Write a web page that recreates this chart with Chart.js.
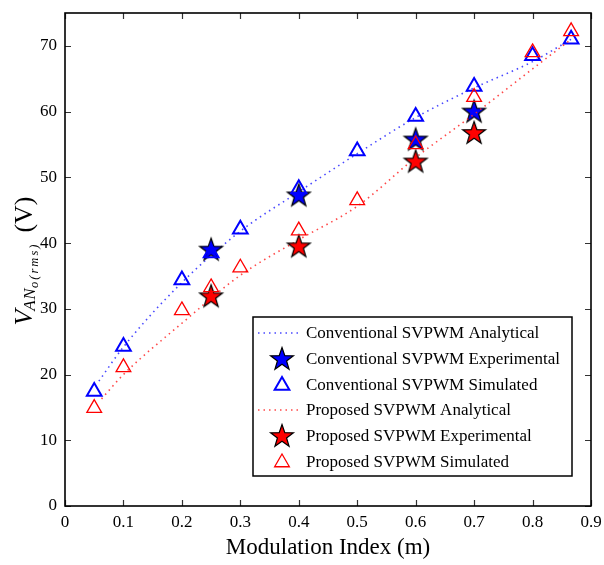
<!DOCTYPE html>
<html><head><meta charset="utf-8">
<script src="https://cdn.jsdelivr.net/npm/chart.js@4/dist/chart.umd.min.js"></script>
<style>html,body{margin:0;padding:0;background:#fff}</style>
</head><body>
<canvas id="c" width="604" height="565"></canvas>
<script>
// ---- data ----
const xTicks = [0,0.1,0.2,0.3,0.4,0.5,0.6,0.7,0.8,0.9];
const yTicks = [0,10,20,30,40,50,60,70];
const convAnalyticalM = [0.058,0.1,0.2,0.3,0.4,0.5,0.6,0.7,0.8,0.866];
const convAnalyticalV = [19,24.2,34,41.8,47.8,53.6,59.1,63.6,67.6,71];
const propAnalyticalM = [0.0625,0.1,0.2,0.3,0.4,0.5,0.6,0.7,0.8,0.866];
const propAnalyticalV = [16.3,20,27.8,35.1,40.5,45.6,53,59.6,66.5,71];
const simM = [0.05,0.1,0.2,0.25,0.3,0.4,0.5,0.6,0.7,0.8,0.866];
const convSimV = [17.4,24.25,34.4,38.5,42.1,48.25,54,59.25,63.8,68.5,71];
const propSimV = [14.9,21.1,29.75,33.25,36.25,41.9,46.5,55,62.2,69,72.2];
const expM = [0.25,0.4,0.6,0.7];
const convExpV = [39,47.25,55.75,60];
const propExpV = [31.9,39.5,52.4,56.75];
const labels = ['Conventional SVPWM Analytical','Conventional SVPWM Experimental','Conventional SVPWM Simulated',
                'Proposed SVPWM Analytical','Proposed SVPWM Experimental','Proposed SVPWM Simulated'];

const pts = (xs, ys) => xs.map((x,i)=>({x, y: ys[i]}));
const BLUE = 'rgb(0,0,255)', RED = 'rgb(255,0,0)';

function makeStar(fill){
  const s = 28, c = document.createElement('canvas'); c.width = s; c.height = s;
  const g = c.getContext('2d'); const R = 12, r = 4.8, cx = s/2, cy = s/2 + 0.5;
  g.beginPath();
  for (let i=0;i<10;i++){ const a = -Math.PI/2 + i*Math.PI/5; const rr = i%2 ? r : R; g.lineTo(cx+rr*Math.cos(a), cy+rr*Math.sin(a)); }
  g.closePath(); g.fillStyle = fill; g.fill(); g.lineWidth = 1.2; g.strokeStyle = '#000'; g.stroke();
  return c;
}
const blueStar = makeStar(BLUE), redStar = makeStar(RED);

const SERIF = '"Liberation Serif", "DejaVu Serif", serif';

const datasets = [
  {label: labels[0], data: pts(convAnalyticalM, convAnalyticalV), showLine: true, borderColor: 'rgba(40,40,255,0.85)', borderWidth: 1.6, borderDash: [1.5,4], pointRadius: 0, cubicInterpolationMode: 'monotone', kind: 'line', order: 6},
  {label: labels[1], data: pts(expM, convExpV), pointStyle: blueStar, pointRadius: 12, kind: 'star', order: 5},
  {label: labels[2], data: pts(simM, convSimV), pointStyle: 'triangle', pointRadius: 8.5, borderColor: BLUE, backgroundColor: 'rgba(0,0,0,0)', pointBorderWidth: 2, borderWidth: 2, kind: 'tri', order: 4},
  {label: labels[3], data: pts(propAnalyticalM, propAnalyticalV), showLine: true, borderColor: 'rgba(255,40,40,0.85)', borderWidth: 1.6, borderDash: [1.5,4], pointRadius: 0, cubicInterpolationMode: 'monotone', kind: 'line', order: 3},
  {label: labels[4], data: pts(expM, propExpV), pointStyle: redStar, pointRadius: 12, kind: 'star', order: 2},
  {label: labels[5], data: pts(simM, propSimV), pointStyle: 'triangle', pointRadius: 8.5, borderColor: RED, backgroundColor: 'rgba(0,0,0,0)', pointBorderWidth: 1.3, borderWidth: 1.3, kind: 'tri', order: 1}
];

function triPath(g, x, y, r){
  g.beginPath();
  g.moveTo(x, y - r);
  g.lineTo(x + r*Math.sin(2*Math.PI/3), y - r*Math.cos(2*Math.PI/3));
  g.lineTo(x + r*Math.sin(4*Math.PI/3), y - r*Math.cos(4*Math.PI/3));
  g.closePath();
}

const framePlugin = {
  id: 'frame',
  afterDraw(chart){
    const g = chart.ctx, a = chart.chartArea, xs = chart.scales.x, ys = chart.scales.y;
    g.save();
    // ticks inward
    g.strokeStyle = '#333'; g.lineWidth = 1.2;
    xTicks.forEach(v => { const px = Math.round(xs.getPixelForValue(v))+0.5;
      g.beginPath(); g.moveTo(px, a.bottom); g.lineTo(px, a.bottom-6); g.moveTo(px, a.top); g.lineTo(px, a.top+6); g.stroke(); });
    yTicks.forEach(v => { const py = Math.round(ys.getPixelForValue(v))+0.5;
      g.beginPath(); g.moveTo(a.left, py); g.lineTo(a.left+6, py); g.moveTo(a.right, py); g.lineTo(a.right-6, py); g.stroke(); });
    // frame
    g.strokeStyle = '#000'; g.lineWidth = 1.6;
    g.strokeRect(a.left, a.top, a.right-a.left, a.bottom-a.top);

    // x title
    g.fillStyle = '#000'; g.textAlign = 'center'; g.textBaseline = 'alphabetic';
    g.font = '23px ' + SERIF;
    g.fillText('Modulation Index (m)', (a.left+a.right)/2, 554);

    // y title with subscripts
    g.translate(32, 261); g.rotate(-Math.PI/2);
    const parts = [
      {t:'V', f:'italic 26px '+SERIF, dy:0, gap:-1, ls:'0px'},
      {t:'AN', f:'italic 17px '+SERIF, dy:3, gap:0, ls:'0.5px'},
      {t:'o(rms)', f:'italic 12.5px '+SERIF, dy:6, gap:10, ls:'2px'},
      {t:'(V)', f:'26px '+SERIF, dy:0, gap:0, ls:'0px'}
    ];
    let total = 0;
    parts.forEach(p => { g.font = p.f; g.letterSpacing = p.ls; p.w = g.measureText(p.t).width; total += p.w + p.gap; });
    let x0 = -total/2;
    g.textAlign = 'left';
    parts.forEach(p => { g.font = p.f; g.letterSpacing = p.ls; g.fillText(p.t, x0, p.dy); x0 += p.w + p.gap; });
    g.letterSpacing = '0px';
    g.restore();

    // legend
    g.save();
    const L = 253, T = 317, R = 572, B = 476;
    g.fillStyle = '#fff'; g.fillRect(L, T, R-L, B-T);
    g.strokeStyle = '#000'; g.lineWidth = 1.5; g.strokeRect(L, T, R-L, B-T);
    const rows = [333, 359, 384.5, 410, 436, 461.5];
    g.font = '17px ' + SERIF; g.textBaseline = 'middle'; g.textAlign = 'left';
    chart.data.datasets.forEach((d, i) => {
      const y = rows[i], cx = 282;
      if (d.kind === 'line'){
        g.save(); g.strokeStyle = d.borderColor; g.lineWidth = d.borderWidth; g.setLineDash(d.borderDash);
        g.beginPath(); g.moveTo(258, y); g.lineTo(300, y); g.stroke(); g.restore();
      } else if (d.kind === 'star'){
        g.drawImage(d.pointStyle, cx - d.pointStyle.width/2, y - d.pointStyle.height/2);
      } else {
        g.save(); g.strokeStyle = d.borderColor; g.lineWidth = d.pointBorderWidth; triPath(g, cx, y+1, d.pointRadius); g.stroke(); g.restore();
      }
      g.fillStyle = '#000';
      g.fillText(d.label, 306, y+1);
    });
    g.restore();
  }
};

const zeroPad = s => { s.paddingTop = 0; s.paddingBottom = 0; s.paddingLeft = 0; s.paddingRight = 0; };

new Chart(document.getElementById('c'), {
  type: 'scatter',
  data: { datasets },
  options: {
    responsive: false, animation: false, devicePixelRatio: 1,
    layout: { padding: { top: 6, right: 11, left: 0, bottom: 0 } },
    plugins: { legend: { display: false }, tooltip: { enabled: false } },
    scales: {
      x: { type: 'linear', min: 0, max: 0.9,
        afterBuildTicks: s => { s.ticks = xTicks.map(v => ({value: v})); },
        afterFit: s => { s.height = 59; zeroPad(s); },
        grid: { display: false, drawTicks: false }, border: { display: false },
        ticks: { padding: 6, color: '#000', font: { family: SERIF, size: 17 }, maxRotation: 0,
          callback: v => (v === 0 ? '0' : String(Math.round(v*10)/10)) } },
      y: { type: 'linear', min: 0, max: 75,
        afterBuildTicks: s => { s.ticks = yTicks.map(v => ({value: v})); },
        afterFit: s => { s.width = 65; zeroPad(s); },
        grid: { display: false, drawTicks: false }, border: { display: false },
        ticks: { padding: 8, color: '#000', font: { family: SERIF, size: 17 } } }
    }
  },
  plugins: [framePlugin]
});
</script>
</body></html>
